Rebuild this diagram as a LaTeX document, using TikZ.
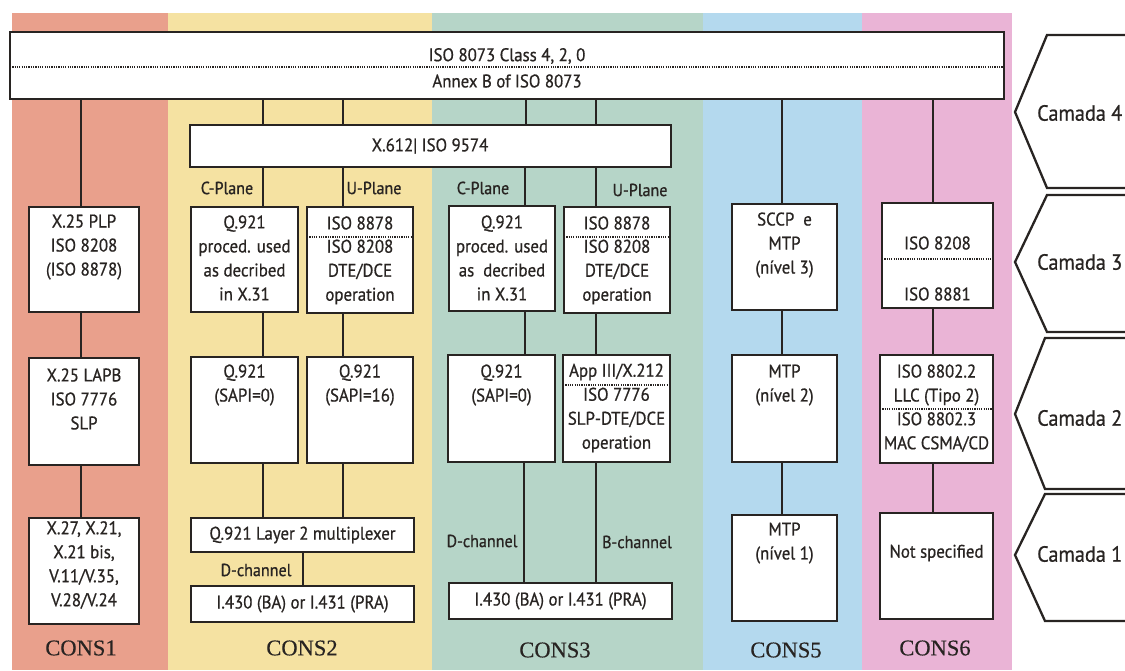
\documentclass[tikz,border=0pt]{standalone}
\usepackage{fontspec}
\setmainfont{PT Sans}[FakeBold=0.7,FakeStretch=0.92]
\newfontfamily\consfont{Liberation Serif}[FakeBold=0.5]
\definecolor{sred}{RGB}{233,160,140}
\definecolor{syel}{RGB}{245,226,162}
\definecolor{steal}{RGB}{182,213,200}
\definecolor{sblue}{RGB}{180,217,238}
\definecolor{spink}{RGB}{234,180,214}
\definecolor{ink}{RGB}{40,36,34}
\tikzset{
  box/.style={draw=ink, line width=2.5pt, fill=white, rectangle, inner sep=0pt, outer sep=0pt, anchor=north west},
  txt/.style={font=\fontsize{18.3}{24}\selectfont, align=center, inner sep=0pt, text=ink},
  lbl/.style={font=\fontsize{17.5}{20}\selectfont, inner sep=0pt, text=ink},
  cons/.style={font=\consfont\fontsize{22.5}{24}\selectfont, inner sep=0pt, text=ink},
  camtxt/.style={font=\fontsize{22}{24}\selectfont, inner sep=0pt, text=ink, anchor=west},
  conn/.style={line width=2.5pt, draw=ink},
  dotline/.style={line width=1.3pt, draw=ink, dash pattern=on 1.2pt off 1.1pt},
  camada/.style={line width=2.3pt, draw=ink, line join=miter}
}
\newcommand\rbox[5]{\node[box,minimum width={(#4)-(#2)},minimum height={(#5)-(#3)}] (#1) at (#2,#3) {};}
\begin{document}
\begin{tikzpicture}[x=1pt,y=-1pt]
\useasboundingbox (0,0) rectangle (1125,670);
% background stripes
\fill[sred]  (12,13) rectangle (168,670);
\fill[syel]  (168,13) rectangle (432,670);
\fill[steal] (432,13) rectangle (703,670);
\fill[sblue] (703,13) rectangle (862,670);
\fill[spink] (862,13) rectangle (1012,670);

% boxes
\rbox{T}{10}{32}{1004}{99}
\rbox{X}{190}{125}{671}{167}
% layer 3
\rbox{a3}{29}{207}{139}{312}
\rbox{b3}{191}{207}{298}{312}
\rbox{c3}{307}{207}{413}{313}
\rbox{d3}{449}{206}{555}{311}
\rbox{e3}{564}{207}{670}{313}
\rbox{f3}{732}{204}{837}{310}
\rbox{g3}{882}{203}{993}{308}
% layer 2
\rbox{a2}{29}{358}{139}{465}
\rbox{b2}{191}{357}{298}{463}
\rbox{c2}{307}{357}{413}{463}
\rbox{d2}{448}{355}{555}{462}
\rbox{e2}{563}{355}{670}{462}
\rbox{f2}{732}{355}{837}{462}
\rbox{g2}{880}{355}{993}{463}
% layer 1
\rbox{a1}{29}{518}{139}{624}
\rbox{b1}{191}{518}{414}{552}
\rbox{b0}{191}{586}{414}{622}
\rbox{d1}{449}{583}{672}{619}
\rbox{f1}{732}{515}{837}{621}
\rbox{g1}{880}{513}{993}{619}

% connectors
\draw[conn] (T.south -| 81,0) -- (a3.north -| 81,0);
\draw[conn] (a3.south -| 81,0) -- (a2.north -| 81,0);
\draw[conn] (a2.south -| 81,0) -- (a1.north -| 81,0);
\draw[conn] (T.south -| 263,0) -- (X.north -| 263,0);
\draw[conn] (T.south -| 343,0) -- (X.north -| 343,0);
\draw[conn] (T.south -| 526,0) -- (X.north -| 526,0);
\draw[conn] (T.south -| 596,0) -- (X.north -| 596,0);
\draw[conn] (X.south -| 263,0) -- (b3.north -| 263,0);
\draw[conn] (X.south -| 343,0) -- (c3.north -| 343,0);
\draw[conn] (X.south -| 525,0) -- (d3.north -| 525,0);
\draw[conn] (X.south -| 596,0) -- (e3.north -| 596,0);
\draw[conn] (b3.south -| 263,0) -- (b2.north -| 263,0);
\draw[conn] (c3.south -| 343,0) -- (c2.north -| 343,0);
\draw[conn] (d3.south -| 525,0) -- (d2.north -| 525,0);
\draw[conn] (e3.south -| 596,0) -- (e2.north -| 596,0);
\draw[conn] (b2.south -| 263,0) -- (b1.north -| 263,0);
\draw[conn] (c2.south -| 343,0) -- (b1.north -| 343,0);
\draw[conn] (b1.south -| 303,0) -- (b0.north -| 303,0);
\draw[conn] (d2.south -| 524,0) -- (d1.north -| 524,0);
\draw[conn] (e2.south -| 596,0) -- (d1.north -| 596,0);
\draw[conn] (T.south -| 782,0) -- (f3.north -| 782,0);
\draw[conn] (f3.south -| 782,0) -- (f2.north -| 782,0);
\draw[conn] (f2.south -| 782,0) -- (f1.north -| 782,0);
\draw[conn] (T.south -| 933,0) -- (g3.north -| 933,0);
\draw[conn] (g3.south -| 933,0) -- (g2.north -| 933,0);
\draw[conn] (g2.south -| 933,0) -- (g1.north -| 933,0);

% dotted separators
\draw[dotline] (T.west |- 0,67) -- (T.east |- 0,67);
\draw[dotline] (c3.west |- 0,237) -- (c3.east |- 0,237);
\draw[dotline] (e3.west |- 0,237) -- (e3.east |- 0,237);
\draw[dotline] (g3.west |- 0,259) -- (g3.east |- 0,259);
\draw[dotline] (e2.west |- 0,385) -- (e2.east |- 0,385);
\draw[dotline] (g2.west |- 0,409) -- (g2.east |- 0,409);

% texts
\node[txt] (Tt1) at (507,56) {ISO 8073 Class 4, 2, 0};
\node[txt] (Tt2) at (507,81) {Annex B of ISO 8073};
\node[txt] (Xt) at (430,146) {X.612| ISO 9574};

\node[txt] (a3t) at (84,247) {X.25 PLP\\ISO 8208\\(ISO 8878)};
\node[txt] (b3t) at (244.5,258) {Q.921\\proced. used\\as decribed\\in X.31};
\node[txt] (c3t1) at (360,223) {ISO 8878};
\node[txt] (c3t2) at (360,272) {ISO 8208\\DTE/DCE\\operation};
\node[txt] (d3t) at (502,258) {Q.921\\proced. used\\as\ \ decribed\\in X.31};
\node[txt] (e3t1) at (617,223) {ISO 8878};
\node[txt] (e3t2) at (617,272) {ISO 8208\\DTE/DCE\\operation};
\node[txt] (f3t) at (784.5,245) {SCCP\ \ e\\MTP\\(nível 3)};
\node[txt] (g3t1) at (937.5,243) {ISO 8208};
\node[txt] (g3t2) at (937.5,294) {ISO 8881};

\node[txt] (a2t) at (84,399) {X.25 LAPB\\ISO 7776\\SLP};
\node[txt] (b2t) at (244.5,385) {Q.921\\(SAPI=0)};
\node[txt] (c2t) at (360,385) {Q.921\\(SAPI=16)};
\node[txt] (d2t) at (501.5,385) {Q.921\\(SAPI=0)};
\node[txt] (e2t1) at (616.5,372) {App III/X.212};
\node[txt] (e2t2) at (616.5,420) {ISO 7776\\SLP-DTE/DCE\\operation};
\node[txt] (f2t) at (784.5,385) {MTP\\(nível 2)};
\node[txt] (g2t1) at (936.5,385) {ISO 8802.2\\LLC (Tipo 2)};
\node[txt] (g2t2) at (936.5,432) {ISO 8802.3\\MAC CSMA/CD};

\node[txt] (a1t) at (84,565) {X.27, X.21,\\X.21 bis,\\V.11/V.35,\\V.28/V.24};
\node[txt] (b1t) at (302.5,535) {Q.921 Layer 2 multiplexer};
\node[txt] (b0t) at (302.5,604) {I.430 (BA) or I.431 (PRA)};
\node[txt] (d1t) at (560.5,601) {I.430 (BA) or I.431 (PRA)};
\node[txt] (f1t) at (784.5,543) {MTP\\(nível 1)};
\node[txt] (g1t) at (936.5,553) {Not specified};

% plane / channel labels
\node[lbl] (cp2) at (227,188) {C-Plane};
\node[lbl] (up2) at (374,188) {U-Plane};
\node[lbl] (cp3) at (483,188) {C-Plane};
\node[lbl] (up3) at (640,190) {U-Plane};
\node[lbl] (dch2) at (256,570) {D-channel};
\node[lbl] (dch3) at (482,541) {D-channel};
\node[lbl] (bch3) at (637,542) {B-channel};

% CONS labels
\node[cons] (k1) at (81,648) {CONS1};
\node[cons] (k2) at (302,648) {CONS2};
\node[cons] (k3) at (555,650) {CONS3};
\node[cons] (k5) at (786,650) {CONS5};
\node[cons] (k6) at (935,648) {CONS6};

% Camada shapes
\draw[camada] (1135,35) -- (1047,35) -- (1015,112) -- (1047,188) -- (1135,188);
\draw[camada] (1135,195) -- (1047,195) -- (1015,262) -- (1047,332) -- (1135,332);
\draw[camada] (1135,338) -- (1045,338) -- (1015,414) -- (1045,489) -- (1135,489);
\draw[camada] (1135,494) -- (1045,494) -- (1015,555) -- (1045,621) -- (1135,621);
\node[camtxt] (cm4) at (1037,113) {Camada 4};
\node[camtxt] (cm3) at (1037,262) {Camada 3};
\node[camtxt] (cm2) at (1037,418) {Camada 2};
\node[camtxt] (cm1) at (1037,554) {Camada 1};
\end{tikzpicture}
\end{document}
